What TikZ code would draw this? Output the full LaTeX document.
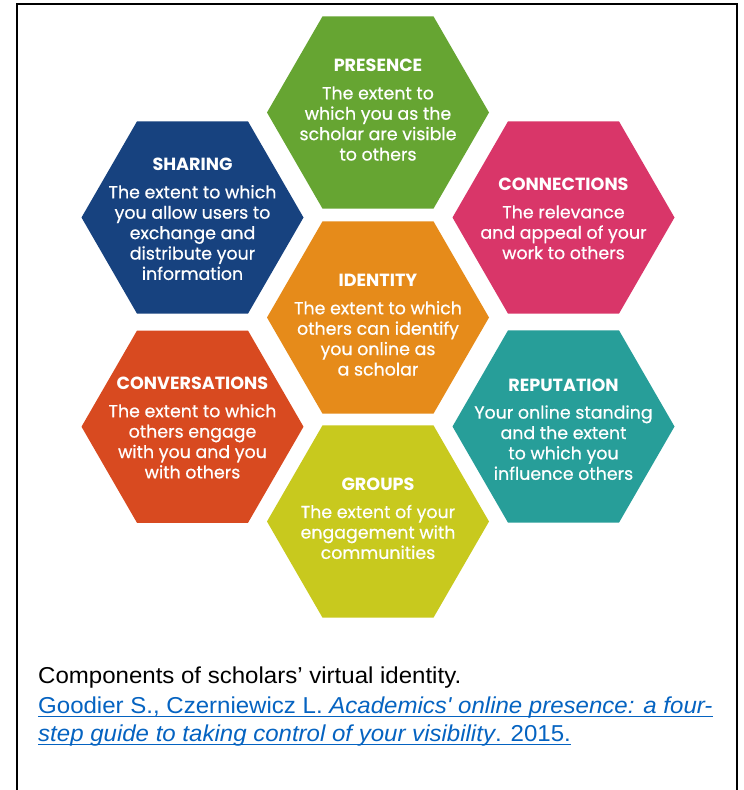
\documentclass[tikz,border=0pt]{standalone}
\usepackage{fontspec}
\setmainfont{Poppins}
\newfontfamily\bodyfont{Poppins}[FakeBold=0.6]
\newfontfamily\capfont{Liberation Sans}
\usetikzlibrary{shapes.geometric}
\definecolor{cPres}{HTML}{66A532}
\definecolor{cShar}{HTML}{17427F}
\definecolor{cConn}{HTML}{D93669}
\definecolor{cIden}{HTML}{E68B1A}
\definecolor{cConv}{HTML}{D84A20}
\definecolor{cRep}{HTML}{279E99}
\definecolor{cGrp}{HTML}{C8C91E}
\definecolor{cLink}{HTML}{0563C1}
\newcommand\hextext[2]{\vtop{\baselineskip=20.4pt\lineskiplimit=-10pt\halign{\hfil##\hfil\cr\fontsize{17.6}{20.4}\rmfamily\bfseries #1\cr\noalign{\vskip 7.2pt}#2\crcr}}}
\tikzset{
  hexa/.style={regular polygon, regular polygon sides=6, minimum size=222pt, inner sep=0pt, outer sep=0pt, draw=none},
  hextxt/.style={text=white, inner sep=0pt, anchor=base, font=\bodyfont\fontsize{17.4}{20.4}\selectfont},
  captxt/.style={inner sep=0pt, anchor=base west, xscale=1.045, transform shape, font=\capfont\fontsize{23}{28}\selectfont},
  linktxt/.style={captxt, text=cLink},
  ulink/.style={draw=cLink, line width=1.2pt}
}
\begin{document}
\begin{tikzpicture}[x=1pt,y=-1pt]
\useasboundingbox (0,0) rectangle (744,790);
\fill[white] (0,0) rectangle (744,790);
\draw[line width=2pt] (17,791) -- (17,4) -- (737,4) -- (737,791);

\node[hexa, fill=cPres] (pres) at (378,112.5) {};
\node[hexa, fill=cShar] (shar) at (192.5,217.5) {};
\node[hexa, fill=cConn] (conn) at (563.5,217.5) {};
\node[hexa, fill=cIden] (iden) at (378,317.5) {};
\node[hexa, fill=cConv] (conv) at (192.5,426.7) {};
\node[hexa, fill=cRep] (rep) at (563.5,426.5) {};
\node[hexa, fill=cGrp] (grp) at (378,521.5) {};

\node[hextxt] (presT) at (378,71.7) {\hextext{PRESENCE}{The extent to\cr which you as the\cr scholar are visible\cr to others}};
\node[hextxt] (sharT) at (192.5,170.7) {\hextext{SHARING}{The extent to which\cr you allow users to\cr exchange and\cr distribute your\cr information}};
\node[hextxt] (connT) at (563.5,190.7) {\hextext{CONNECTIONS}{The relevance\cr and appeal of your\cr work to others}};
\node[hextxt] (idenT) at (378,286.7) {\hextext{IDENTITY}{The extent to which\cr others can identify\cr you online as\cr a scholar}};
\node[hextxt] (convT) at (192.5,389.6) {\hextext{CONVERSATIONS}{The extent to which\cr others engage\cr with you and you\cr with others}};
\node[hextxt] (repT) at (563.5,391) {\hextext{REPUTATION}{Your online standing\cr and the extent\cr to which you\cr influence others}};
\node[hextxt] (grpT) at (378,490.5) {\hextext{GROUPS}{The extent of your\cr engagement with\cr communities}};

\node[captxt] (cap) at (38,683) {Components of scholars’ virtual identity.};
\node[linktxt] (l1) at (38,713) {Goodier S., Czerniewicz L. \textit{Academics\textquotesingle\ online presence: a four-}};
\node[linktxt] (l2) at (38,741) {\textit{step guide to taking control of your visibility}. 2015.};
\draw[ulink] ([yshift=-3.5pt]l1.base west) -- ([yshift=-3.5pt]l1.base east);
\draw[ulink] ([yshift=-3.5pt]l2.base west) -- ([yshift=-3.5pt]l2.base east);
\end{tikzpicture}
\end{document}
